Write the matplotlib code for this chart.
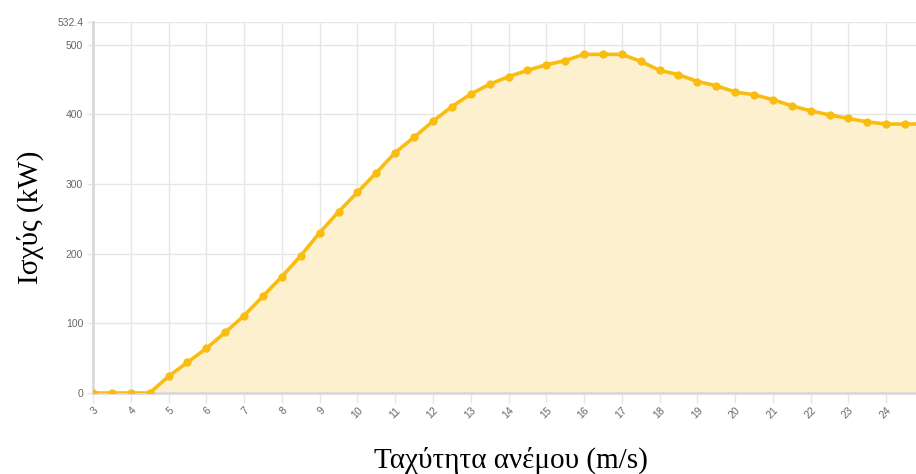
import matplotlib
matplotlib.use("Agg")
import matplotlib.pyplot as plt

# wind speed (m/s) and power output (kW)
wind_speed = [3, 3.5, 4, 4.5, 5, 5.5, 6, 6.5, 7, 7.5, 8, 8.5, 9, 9.5, 10,
              10.5, 11, 11.5, 12, 12.5, 13, 13.5, 14, 14.5, 15, 15.5, 16,
              16.5, 17, 17.5, 18, 18.5, 19, 19.5, 20, 20.5, 21, 21.5, 22,
              22.5, 23, 23.5, 24, 24.5, 25]
power = [0, 0, 0, 0, 24, 44, 64, 87, 111, 139, 167, 197, 230, 260, 288,
         316, 345, 367, 390, 411, 429, 443, 454, 463, 471, 477, 486,
         486, 486, 476, 463, 457, 447, 441, 432, 428, 421, 412, 405,
         399, 394, 389, 386, 386, 386]

x_ticks = list(range(3, 26))
y_ticks = [0, 100, 200, 300, 400, 500, 532.4]
y_tick_labels = ["0", "100", "200", "300", "400", "500", "532.4"]

line_col = "#f9bd12"
fill_col = "#fdf0cf"
grid_col = "#e6e6e6"

fig = plt.figure(figsize=(9.16, 4.74), dpi=100)
# the right end of the axis runs past the picture edge, like the reference crop
ax = fig.add_axes([93 / 916, 81 / 474, 831 / 916, 371 / 474])

ax.fill_between(wind_speed, power, 0, color=fill_col, zorder=1, linewidth=0)
ax.plot(wind_speed, power, color=line_col, lw=2.6, marker="o", ms=5,
        mfc=line_col, mec=line_col, zorder=3)

ax.set_xlim(3, 25)
ax.set_ylim(0, 532.4)
ax.set_xticks(x_ticks)
ax.set_xticklabels([str(v) for v in x_ticks], rotation=45, ha="right",
                   rotation_mode="anchor")
ax.set_yticks(y_ticks)
ax.set_yticklabels(y_tick_labels)

ax.grid(True, color=grid_col, lw=1, zorder=0)
ax.set_axisbelow(True)

for s in ["top", "right"]:
    ax.spines[s].set_visible(False)
ax.spines["left"].set_color("#d9d9d9")
ax.spines["left"].set_linewidth(2)
ax.spines["bottom"].set_color("#d9d9d9")
ax.spines["bottom"].set_linewidth(2)

ax.tick_params(axis="x", length=7, width=1, color=grid_col, pad=2,
               labelsize=7.5, labelcolor="#666666")
ax.tick_params(axis="y", length=4, width=1, color=grid_col, pad=3,
               labelsize=7.5, labelcolor="#666666")
for lab in ax.get_xticklabels() + ax.get_yticklabels():
    lab.set_fontfamily("Liberation Sans")

fig.text(511 / 916, 1 - 460 / 474, "Ταχύτητα ανέμου (m/s)",
         ha="center", va="center", fontsize=21, family="Liberation Serif")
fig.text(30 / 916, 1 - 217 / 474, "Ισχύς (kW)", rotation=90,
         ha="center", va="center", fontsize=21, family="Liberation Serif")

fig.savefig("out.png", dpi=100)
